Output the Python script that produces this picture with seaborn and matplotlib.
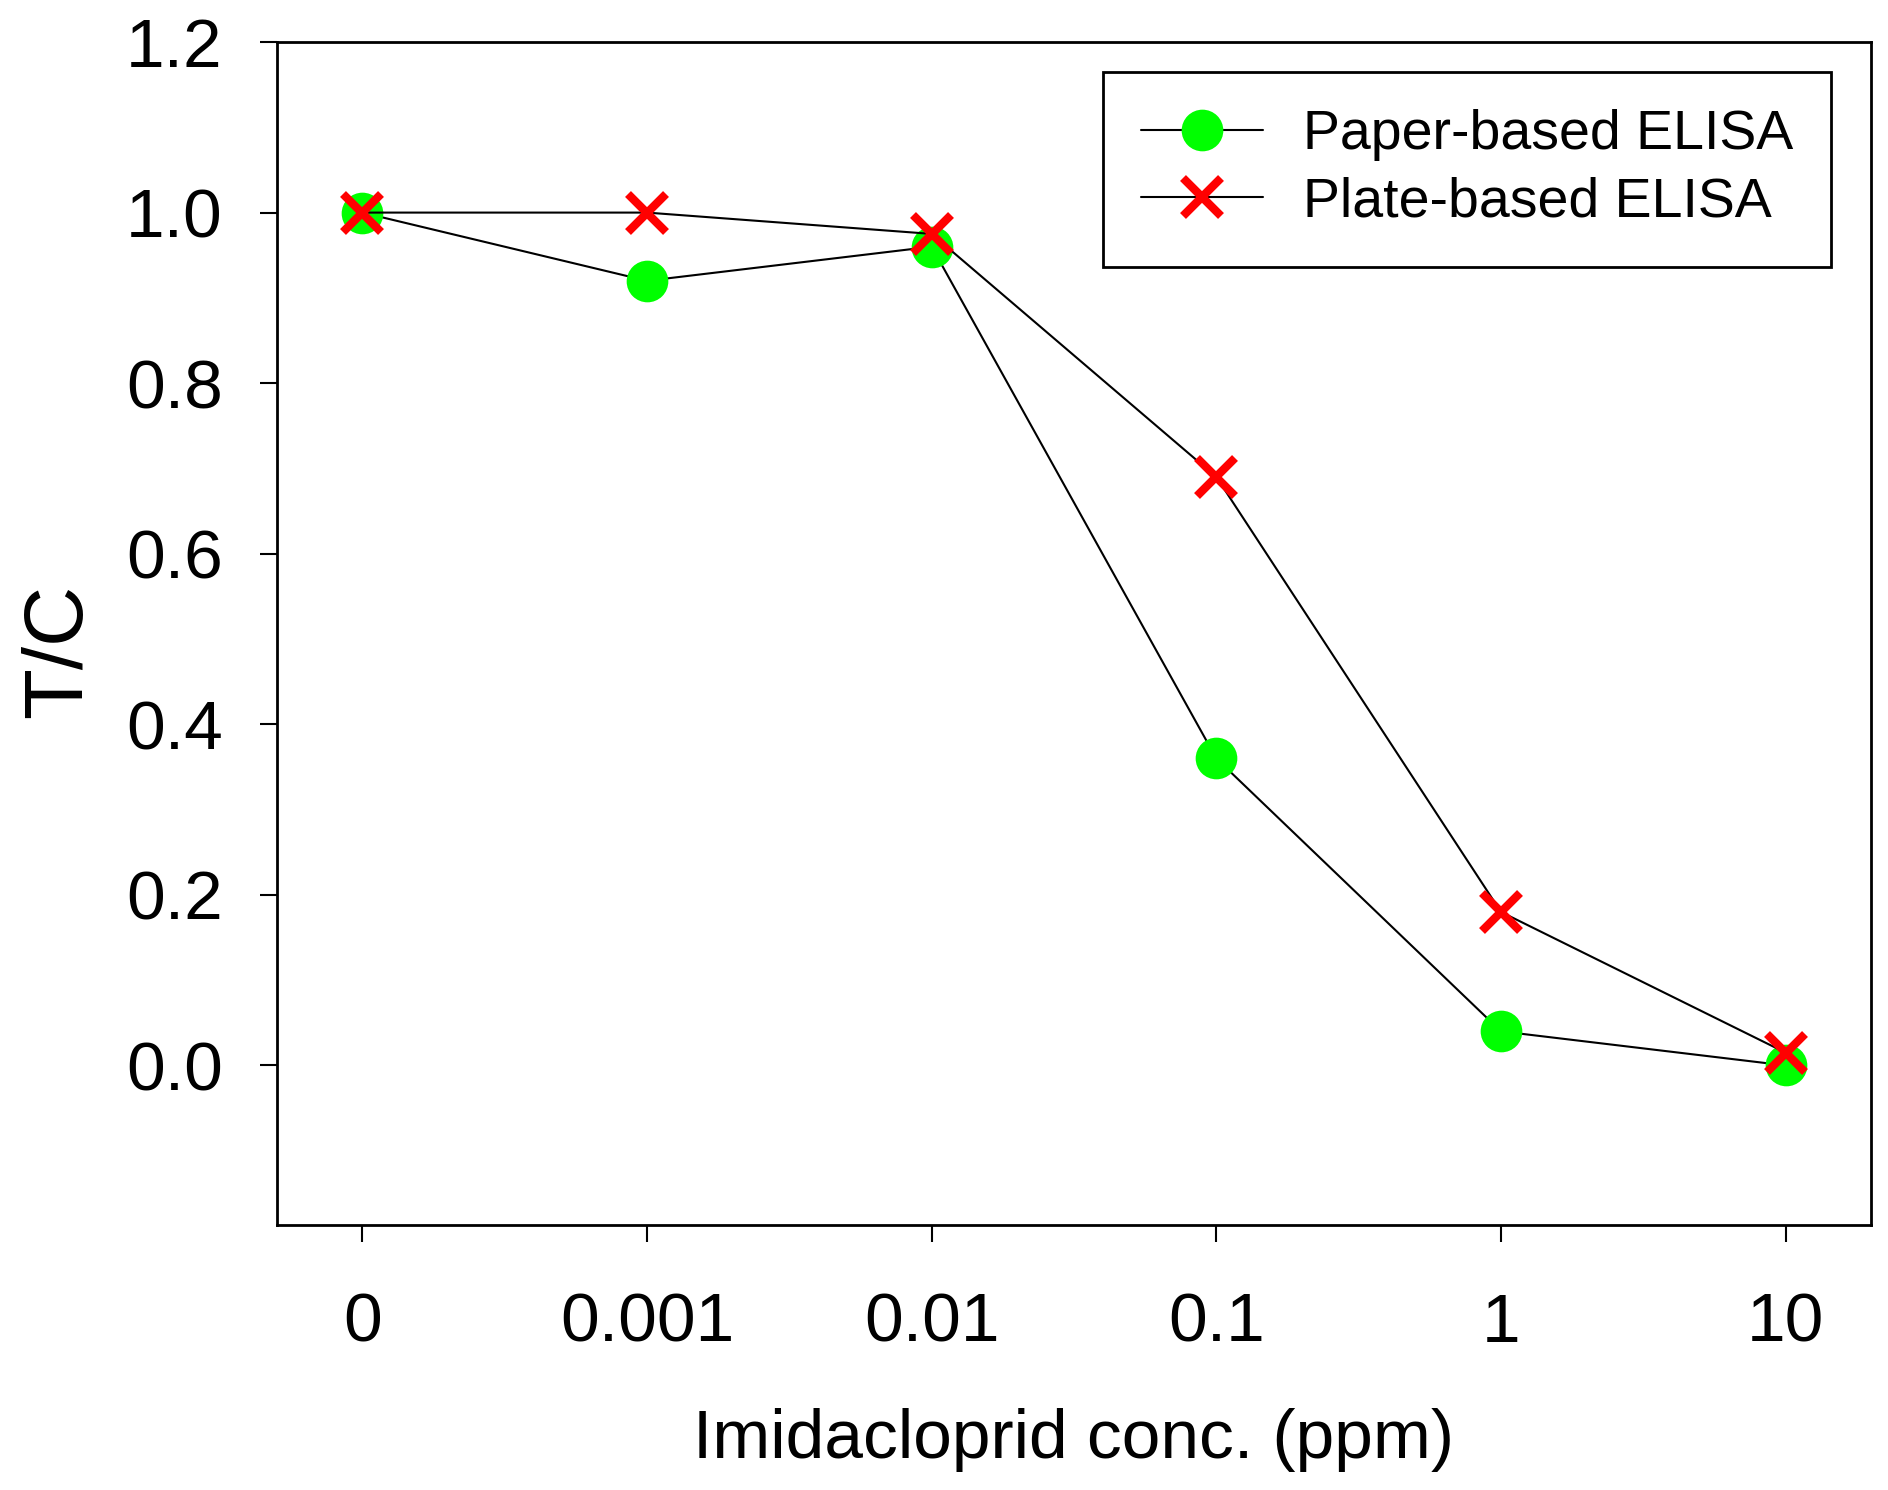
import matplotlib
matplotlib.use("Agg")
import matplotlib.pyplot as plt
import seaborn as sns

# values
conc_labels = ["0", "0.001", "0.01", "0.1", "1", "10"]
paper_elisa = [1.0, 0.92, 0.96, 0.36, 0.04, 0.0]
plate_elisa = [1.0, 1.0, 0.975, 0.69, 0.18, 0.015]
y_ticks = [0.0, 0.2, 0.4, 0.6, 0.8, 1.0, 1.2]

sns.set_style("ticks")
plt.rcParams["font.family"] = ["Liberation Sans", "DejaVu Sans"]
plt.rcParams["text.color"] = "black"
plt.rcParams["axes.labelcolor"] = "black"

pos = list(range(len(conc_labels)))

fig = plt.figure(figsize=(18.88, 14.9), dpi=100)
ax = fig.add_axes([0.1467, 0.1779, 0.8443, 0.7939])

sns.lineplot(x=pos, y=paper_elisa, ax=ax, color="black", lw=1.5,
             marker="o", markersize=30, markerfacecolor="#00ff00",
             markeredgecolor="#00ff00", markeredgewidth=0,
             label="Paper-based ELISA")
sns.lineplot(x=pos, y=plate_elisa, ax=ax, color="black", lw=1.5,
             marker="x", markersize=27, markeredgecolor="#ff0000",
             markeredgewidth=6, label="Plate-based ELISA")

ax.set_xlim(-0.3, 5.3)
ax.set_ylim(-0.187, 1.2)
ax.set_xticks(pos)
ax.set_xticklabels(conc_labels)
ax.set_yticks(y_ticks)
ax.set_yticklabels([f"{v:.1f}" for v in y_ticks])
ax.tick_params(axis="both", labelsize=50, length=12, width=1.5,
               colors="black")
ax.tick_params(axis="y", pad=27)
ax.tick_params(axis="x", pad=36)

for sp in ax.spines.values():
    sp.set_visible(True)
    sp.set_color("black")
    sp.set_linewidth(2)

ax.set_xlabel("Imidacloprid conc. (ppm)", fontsize=50, labelpad=38)
ax.set_ylabel("T/C", fontsize=60, labelpad=20, y=0.485)

leg = ax.legend(loc="upper right", bbox_to_anchor=(0.975, 0.975),
                borderaxespad=0, fontsize=40, frameon=True, fancybox=False,
                framealpha=1, edgecolor="black", numpoints=1,
                handlelength=2.2, handletextpad=0.72, labelspacing=0.28,
                borderpad=0.68)
leg.get_frame().set_linewidth(2)

plt.savefig("out.png", dpi=100)
